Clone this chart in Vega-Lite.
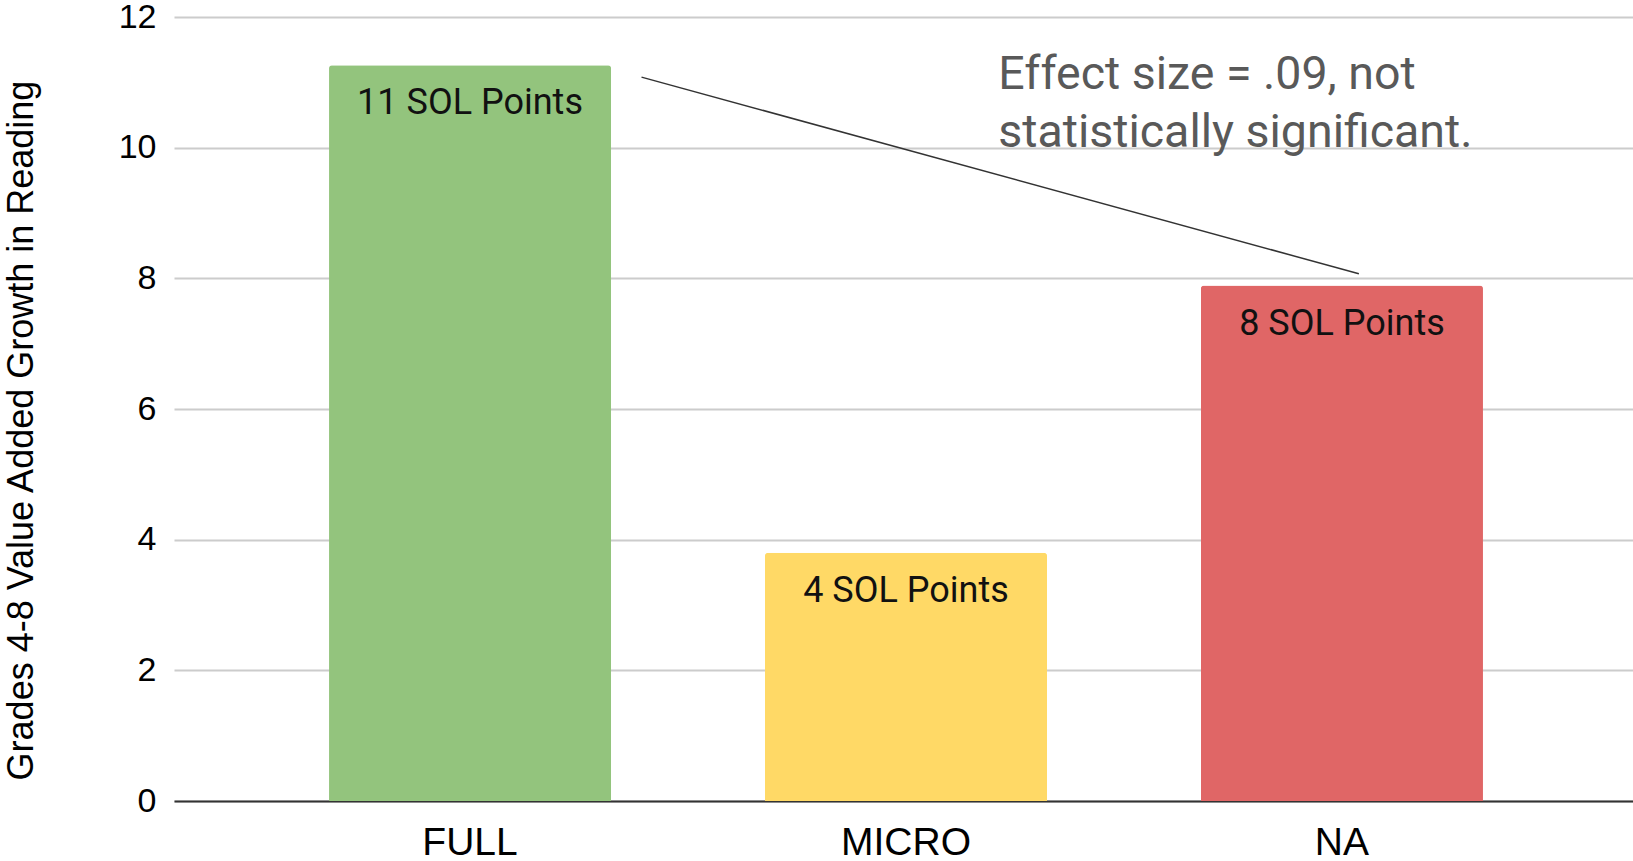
{
  "$schema": "https://vega.github.io/schema/vega-lite/v6.json",
  "width": 1464,
  "height": 784,
  "autosize": {"type": "none"},
  "padding": {"left": 174, "top": 17, "right": 0, "bottom": 60},
  "background": "white",
  "config": {"view": {"stroke": null}},
  "datasets": {
    "bars": [
      {"group": "FULL", "value": 11.26, "label": "11 SOL Points"},
      {"group": "MICRO", "value": 3.8, "label": "4 SOL Points"},
      {"group": "NA", "value": 7.89, "label": "8 SOL Points"}
    ],
    "connector": [
      {"x_start": 0.958, "y_start": 11.08, "x_end": 2.428, "y_end": 8.07}
    ],
    "note": [
      {"pos": 1.689, "level": 11.11, "text": "Effect size = .09, not"},
      {"pos": 1.689, "level": 10.22, "text": "statistically significant."}
    ]
  },
  "layer": [
    {
      "data": {"name": "bars"},
      "encoding": {
        "x": {
          "field": "group", "type": "nominal", "sort": null,
          "scale": {"paddingInner": 0.353, "paddingOuter": 0.3556},
          "axis": {
            "title": null, "labelAngle": 0, "ticks": false,
            "domain": true, "domainColor": "#333333", "domainWidth": 2,
            "labelFont": "Liberation Sans", "labelFontSize": 39, "labelColor": "#000000",
            "labelPadding": 22, "grid": false
          }
        },
        "y": {
          "field": "value", "type": "quantitative",
          "scale": {"domain": [0, 12], "nice": false},
          "axis": {
            "title": "Grades 4-8 Value Added Growth in Reading",
            "titleFont": "Liberation Sans", "titleFontSize": 36, "titleFontWeight": "normal",
            "titleColor": "#000000", "titleX": -153, "titleY": 413, "titleAngle": -90,
            "titleBaseline": "middle", "titleAlign": "center",
            "values": [0, 2, 4, 6, 8, 10, 12], "format": "d", "ticks": false, "domain": false,
            "labelFont": "Liberation Sans", "labelFontSize": 34, "labelColor": "#000000",
            "labelPadding": 18, "gridColor": "#cccccc", "gridWidth": 2
          }
        }
      },
      "layer": [
        {
          "mark": {"type": "bar", "cornerRadiusTopLeft": 3, "cornerRadiusTopRight": 3},
          "encoding": {
            "color": {
              "field": "group", "type": "nominal",
              "scale": {"domain": ["FULL", "MICRO", "NA"], "range": ["#93c47d", "#ffd966", "#e06666"]},
              "legend": null
            }
          }
        },
        {
          "mark": {"type": "text", "font": "Roboto", "fontSize": 36, "color": "#111111", "baseline": "middle", "dy": 38},
          "encoding": {
            "text": {"field": "label"}
          }
        }
      ]
    },
    {
      "data": {"name": "connector"},
      "mark": {"type": "rule", "color": "#333333", "strokeWidth": 1.5},
      "encoding": {
        "x": {"field": "x_start", "type": "quantitative", "scale": {"domain": [0, 3], "nice": false, "zero": false}, "axis": null},
        "x2": {"field": "x_end"},
        "y": {"field": "y_start", "type": "quantitative"},
        "y2": {"field": "y_end"}
      }
    },
    {
      "data": {"name": "note"},
      "mark": {"type": "text", "font": "Roboto", "fontSize": 46.5, "color": "#595959", "align": "left", "baseline": "middle"},
      "encoding": {
        "x": {"field": "pos", "type": "quantitative", "scale": {"domain": [0, 3], "nice": false, "zero": false}, "axis": null},
        "y": {"field": "level", "type": "quantitative"},
        "text": {"field": "text"}
      }
    }
  ],
  "resolve": {"scale": {"x": "independent"}}
}
